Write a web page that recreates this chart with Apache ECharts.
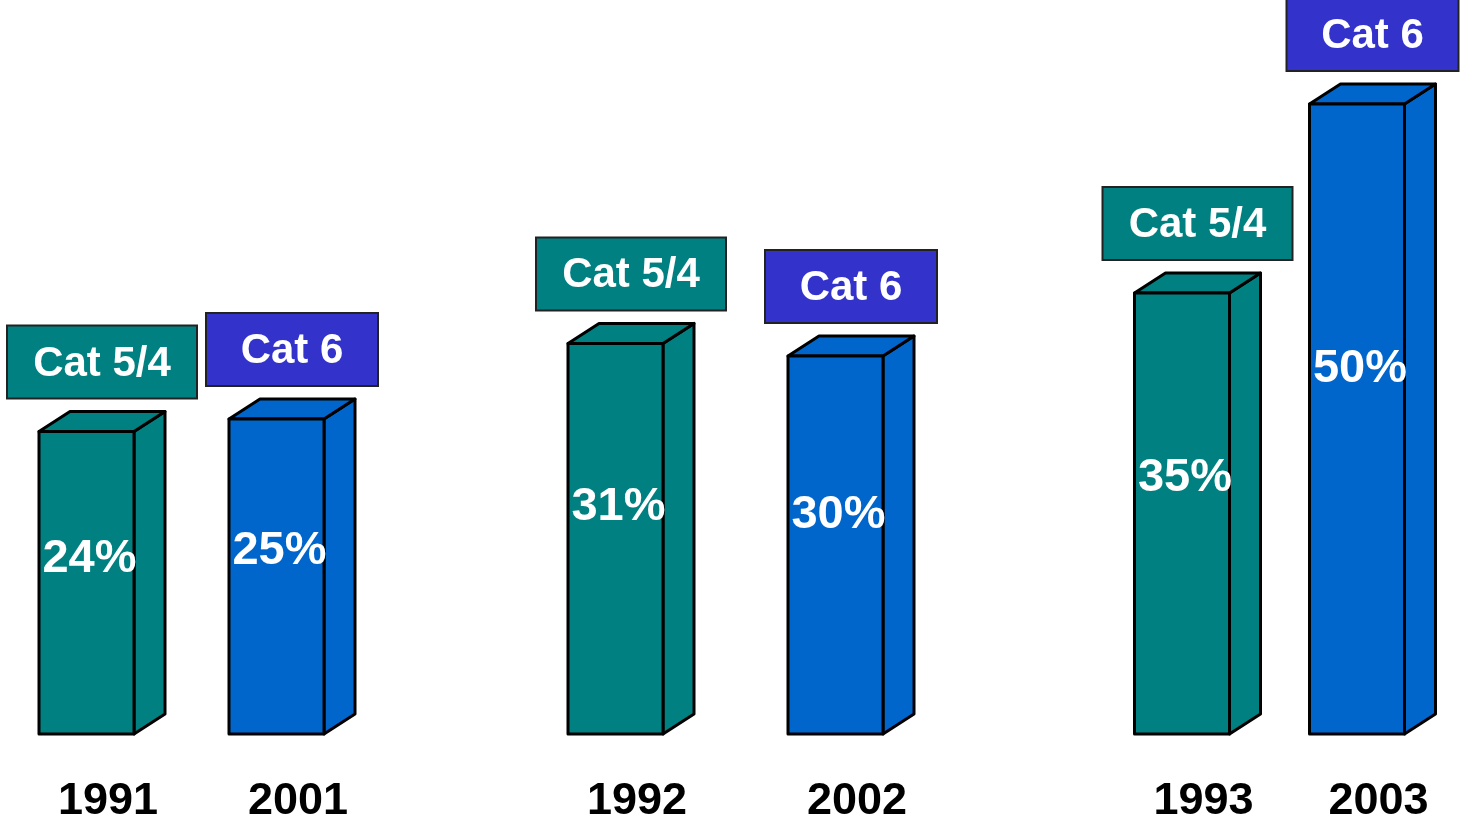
<!DOCTYPE html>
<html>
<head>
<meta charset="utf-8">
<style>
  html, body { margin: 0; padding: 0; background: #ffffff; }
  #chart { width: 1460px; height: 822px; }
</style>
<script src="https://cdn.jsdelivr.net/npm/echarts@6/dist/echarts.min.js"></script>
</head>
<body>
<div id="chart"></div>
<script>
// Share of installed cabling by year: older standard vs. newer standard
const groups = ['1991 / 2001', '1992 / 2002', '1993 / 2003'];
const yearsCat54 = ['1991', '1992', '1993'];
const yearsCat6 = ['2001', '2002', '2003'];
const cat54Values = [24, 31, 35];
const cat6Values = [25, 30, 50];
const seriesNames = ['Cat 5/4', 'Cat 6'];

// Drawing style
const FRONT_W = 95;      // front face width
const DEPTH_X = 31;      // 3D depth offset, horizontal
const DEPTH_Y = 20;      // 3D depth offset, vertical
const PAIR_GAP = [190, 220, 175]; // distance between the two bars of each pair
const FONT = 'Liberation Sans, Arial, sans-serif';

const barColors = ['#008080', '#0066CC'];
const boxColors = ['#008080', '#3333CC'];
const boxWidths = [190, 172];

function makeRender(side, years) {
  return function (params, api) {
    const idx = api.value(0);
    const val = api.value(1);
    const top = api.coord([idx, val]);
    const base = api.coord([idx, 0]);
    const gap = PAIR_GAP[params.dataIndex];
    // centre of the whole box (front + depth)
    const cx = top[0] + (side === 0 ? -gap / 2 : gap / 2);
    const x0 = cx - (FRONT_W + DEPTH_X) / 2;
    const x1 = x0 + FRONT_W;
    const yT = top[1];
    const yB = base[1];
    const stroke = { stroke: '#000', lineWidth: 3, lineJoin: 'round' };
    const fill = barColors[side];
    const h = yB - yT;
    const boxH = 73;
    const boxBottom = yT - DEPTH_Y - 13;
    return {
      type: 'group',
      children: [
        { type: 'polygon', shape: { points: [[x1, yT], [x1 + DEPTH_X, yT - DEPTH_Y], [x1 + DEPTH_X, yB - DEPTH_Y], [x1, yB]] },
          style: Object.assign({ fill: fill }, stroke) },
        { type: 'polygon', shape: { points: [[x0, yT], [x0 + DEPTH_X, yT - DEPTH_Y], [x1 + DEPTH_X, yT - DEPTH_Y], [x1, yT]] },
          style: Object.assign({ fill: fill }, stroke) },
        { type: 'rect', shape: { x: x0, y: yT, width: FRONT_W, height: h },
          style: Object.assign({ fill: fill }, stroke) },
        // value label on the front face
        { type: 'text', z2: 10,
          style: { text: val + '%', x: x0 + FRONT_W / 2 + 3, y: yB - h * 0.58,
                   align: 'center', verticalAlign: 'middle',
                   font: 'bold 47px ' + FONT, fill: '#ffffff' } },
        // series tag above the bar
        { type: 'rect', shape: { x: cx - boxWidths[side] / 2, y: boxBottom - boxH, width: boxWidths[side], height: boxH },
          style: { fill: boxColors[side], stroke: '#222', lineWidth: 2 } },
        { type: 'text', z2: 10,
          style: { text: seriesNames[side], x: cx, y: boxBottom - boxH / 2 + 2,
                   align: 'center', verticalAlign: 'middle',
                   font: 'bold 42px ' + FONT, fill: '#ffffff' } },
        // year under the bar
        { type: 'text', z2: 10,
          style: { text: years[params.dataIndex], x: cx + 6, y: 802,
                   align: 'center', verticalAlign: 'middle',
                   font: 'bold 45px ' + FONT, fill: '#000000' } }
      ]
    };
  };
}

const chart = echarts.init(document.getElementById('chart'), null, { renderer: 'canvas' });
chart.setOption({
  animation: false,
  backgroundColor: '#ffffff',
  grid: { left: 197, right: 175, top: 104, bottom: 88 },
  xAxis: { type: 'category', data: groups, boundaryGap: false, show: false },
  yAxis: { type: 'value', min: 0, max: 50, show: false },
  series: [
    { name: seriesNames[0], type: 'custom', clip: false,
      renderItem: makeRender(0, yearsCat54),
      data: cat54Values.map((v, i) => [i, v]) },
    { name: seriesNames[1], type: 'custom', clip: false,
      renderItem: makeRender(1, yearsCat6),
      data: cat6Values.map((v, i) => [i, v]) }
  ]
});
</script>
</body>
</html>
